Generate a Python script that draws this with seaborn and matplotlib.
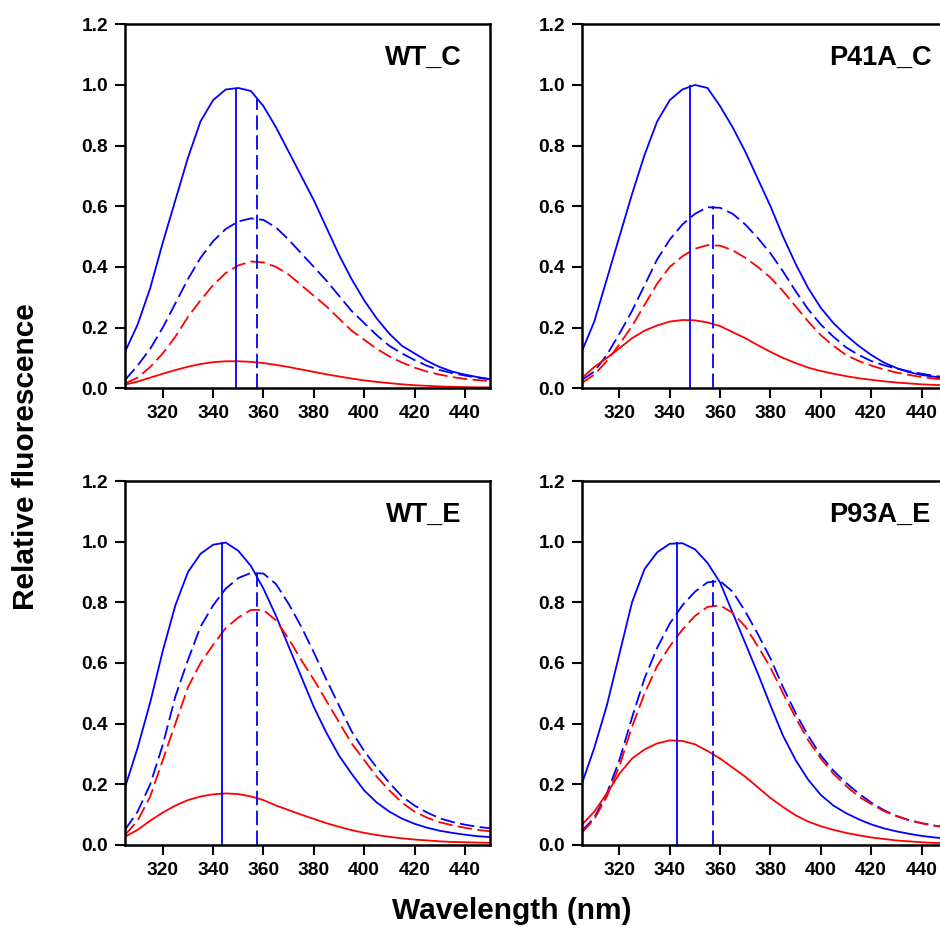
import numpy as np
import pandas as pd
import seaborn as sns
import matplotlib
matplotlib.use('Agg')
import matplotlib.pyplot as plt

# longitud de onda (nm), una lectura cada 5 nm
wavelength = list(range(305, 455, 5))

# WT_C
wtc_blue_solid = [0.12, 0.21, 0.33, 0.48, 0.62, 0.76, 0.88, 0.95, 0.985, 0.99, 0.98, 0.93, 0.86, 0.78, 0.70,
                  0.62, 0.53, 0.44, 0.36, 0.29, 0.23, 0.18, 0.14, 0.115, 0.09, 0.07, 0.055, 0.045, 0.037, 0.03]
wtc_blue_dash = [0.027, 0.075, 0.13, 0.20, 0.28, 0.36, 0.43, 0.485, 0.525, 0.55, 0.56, 0.555, 0.53, 0.49, 0.445,
                 0.40, 0.355, 0.305, 0.255, 0.215, 0.175, 0.14, 0.115, 0.093, 0.074, 0.06, 0.05, 0.042, 0.035, 0.03]
wtc_red_dash = [0.016, 0.035, 0.07, 0.115, 0.17, 0.235, 0.29, 0.34, 0.38, 0.405, 0.418, 0.415, 0.40, 0.375, 0.34,
                0.305, 0.27, 0.23, 0.19, 0.16, 0.13, 0.105, 0.085, 0.068, 0.055, 0.045, 0.037, 0.031, 0.027, 0.024]
wtc_red_solid = [0.012, 0.022, 0.035, 0.048, 0.06, 0.071, 0.08, 0.086, 0.089, 0.089, 0.087, 0.083, 0.077, 0.07, 0.062,
                 0.054, 0.046, 0.039, 0.032, 0.026, 0.021, 0.017, 0.013, 0.01, 0.008, 0.006, 0.005, 0.004, 0.003, 0.003]

# P41A_C
p41_blue_solid = [0.12, 0.22, 0.36, 0.50, 0.64, 0.77, 0.88, 0.95, 0.985, 1.0, 0.99, 0.93, 0.86, 0.78, 0.69,
                  0.60, 0.50, 0.41, 0.33, 0.265, 0.215, 0.175, 0.14, 0.11, 0.085, 0.067, 0.053, 0.044, 0.038, 0.034]
p41_blue_dash = [0.027, 0.055, 0.11, 0.18, 0.255, 0.34, 0.425, 0.49, 0.54, 0.575, 0.597, 0.595, 0.575, 0.54, 0.495,
                 0.445, 0.385, 0.32, 0.26, 0.21, 0.17, 0.135, 0.11, 0.09, 0.076, 0.065, 0.056, 0.048, 0.041, 0.036]
p41_red_dash = [0.017, 0.045, 0.09, 0.145, 0.205, 0.275, 0.345, 0.40, 0.435, 0.46, 0.472, 0.47, 0.455, 0.43, 0.40,
                0.365, 0.32, 0.27, 0.22, 0.175, 0.14, 0.11, 0.09, 0.075, 0.062, 0.052, 0.044, 0.037, 0.032, 0.028]
p41_red_solid = [0.033, 0.07, 0.10, 0.132, 0.165, 0.19, 0.207, 0.22, 0.225, 0.224, 0.217, 0.205, 0.185, 0.165, 0.142,
                 0.12, 0.10, 0.083, 0.068, 0.057, 0.048, 0.04, 0.033, 0.028, 0.023, 0.019, 0.016, 0.013, 0.011, 0.01]

# WT_E
wte_blue_solid = [0.19, 0.32, 0.47, 0.64, 0.79, 0.90, 0.96, 0.99, 0.997, 0.97, 0.92, 0.845, 0.755, 0.655, 0.555,
                  0.455, 0.37, 0.295, 0.235, 0.18, 0.14, 0.11, 0.087, 0.07, 0.057, 0.047, 0.04, 0.034, 0.029, 0.026]
wte_blue_dash = [0.05, 0.11, 0.20, 0.33, 0.49, 0.61, 0.72, 0.79, 0.845, 0.88, 0.897, 0.895, 0.86, 0.795, 0.72,
                 0.635, 0.545, 0.46, 0.375, 0.31, 0.255, 0.205, 0.16, 0.13, 0.107, 0.088, 0.076, 0.067, 0.06, 0.055]
wte_red_dash = [0.033, 0.08, 0.16, 0.28, 0.40, 0.52, 0.60, 0.66, 0.715, 0.75, 0.775, 0.775, 0.74, 0.68, 0.61,
                0.545, 0.475, 0.405, 0.335, 0.28, 0.225, 0.18, 0.14, 0.11, 0.09, 0.075, 0.065, 0.057, 0.05, 0.045]
wte_red_solid = [0.027, 0.05, 0.08, 0.107, 0.13, 0.148, 0.16, 0.167, 0.17, 0.168, 0.16, 0.148, 0.13, 0.115, 0.10,
                 0.086, 0.072, 0.06, 0.049, 0.04, 0.033, 0.027, 0.022, 0.018, 0.015, 0.012, 0.01, 0.009, 0.008, 0.007]

# P93A_E
p93_blue_solid = [0.20, 0.32, 0.46, 0.63, 0.80, 0.91, 0.965, 0.993, 0.995, 0.975, 0.93, 0.865, 0.765, 0.665, 0.565,
                  0.46, 0.36, 0.28, 0.215, 0.165, 0.13, 0.105, 0.085, 0.068, 0.055, 0.045, 0.037, 0.03, 0.025, 0.021]
p93_blue_dash = [0.045, 0.09, 0.17, 0.28, 0.42, 0.55, 0.65, 0.73, 0.79, 0.835, 0.866, 0.87, 0.835, 0.77, 0.695,
                 0.615, 0.52, 0.435, 0.36, 0.295, 0.245, 0.205, 0.17, 0.14, 0.115, 0.096, 0.082, 0.072, 0.064, 0.058]
p93_red_dash = [0.04, 0.085, 0.16, 0.26, 0.39, 0.50, 0.59, 0.655, 0.71, 0.755, 0.785, 0.79, 0.765, 0.72, 0.655,
                0.585, 0.50, 0.42, 0.345, 0.285, 0.235, 0.195, 0.16, 0.135, 0.112, 0.095, 0.082, 0.072, 0.064, 0.058]
p93_red_solid = [0.066, 0.11, 0.17, 0.235, 0.285, 0.315, 0.335, 0.345, 0.343, 0.332, 0.31, 0.285, 0.255, 0.225, 0.19,
                 0.155, 0.125, 0.098, 0.077, 0.062, 0.05, 0.04, 0.032, 0.025, 0.02, 0.015, 0.012, 0.009, 0.007, 0.006]

panel_names = ['WT_C', 'P41A_C', 'WT_E', 'P93A_E']
panel_curves = [
    [wtc_blue_solid, wtc_blue_dash, wtc_red_dash, wtc_red_solid],
    [p41_blue_solid, p41_blue_dash, p41_red_dash, p41_red_solid],
    [wte_blue_solid, wte_blue_dash, wte_red_dash, wte_red_solid],
    [p93_blue_solid, p93_blue_dash, p93_red_dash, p93_red_solid],
]
# lineas verticales en los maximos: (posicion, altura)
peak_solid_x = [349, 348, 343.5, 343]
peak_solid_h = [0.99, 1.0, 1.0, 1.0]
peak_dash_x = [357.3, 357, 357.4, 357]
peak_dash_h = [0.955, 0.60, 0.895, 0.874]

series_names = ['blue solid', 'blue dashed', 'red dashed', 'red solid']
palette = {'blue solid': '#0000FF', 'blue dashed': '#0000FF', 'red dashed': '#FF0000', 'red solid': '#FF0000'}
dashes = {'blue solid': '', 'blue dashed': (8, 3), 'red dashed': (8, 3), 'red solid': ''}

sns.set_style('ticks')
plt.rcParams['font.family'] = ['Liberation Sans', 'DejaVu Sans']
plt.rcParams['font.weight'] = 'bold'
for key in ['text.color', 'axes.labelcolor', 'xtick.color', 'ytick.color', 'axes.edgecolor']:
    plt.rcParams[key] = 'black'

fig = plt.figure(figsize=(9.4, 9.34), dpi=100)
fig.patch.set_facecolor('white')

lefts = [0.133, 0.6188, 0.133, 0.6188]
bottoms = [0.5843, 0.5843, 0.0953, 0.0953]
w, h = 0.3883, 0.3897

for i, name in enumerate(panel_names):
    ax = fig.add_axes([lefts[i], bottoms[i], w, h])
    rows = []
    for s, vals in zip(series_names, panel_curves[i]):
        for x, y in zip(wavelength, vals):
            rows.append({'wavelength': x, 'intensity': y, 'series': s})
    df = pd.DataFrame(rows)
    sns.lineplot(data=df, x='wavelength', y='intensity', hue='series', style='series',
                 palette=palette, dashes=dashes, legend=False, ax=ax, lw=1.3)
    ax.vlines(peak_solid_x[i], 0, peak_solid_h[i], color='#0000FF', lw=1.3)
    ax.vlines(peak_dash_x[i], 0, peak_dash_h[i], color='#0000FF', lw=1.3, linestyles=(0, (8, 3)))

    ax.set_xlim(305, 450)
    ax.set_ylim(0, 1.2)
    ax.set_xticks([320, 340, 360, 380, 400, 420, 440])
    ax.set_yticks([0.0, 0.2, 0.4, 0.6, 0.8, 1.0, 1.2])
    ax.set_yticklabels(['0.0', '0.2', '0.4', '0.6', '0.8', '1.0', '1.2'])
    ax.tick_params(direction='out', length=7, width=1.5, labelsize=13.8, pad=5, colors='black')
    for t in ax.get_xticklabels() + ax.get_yticklabels():
        t.set_fontweight('bold')
    for sp in ax.spines.values():
        sp.set_visible(True)
        sp.set_linewidth(1.8)
        sp.set_color('black')
    ax.set_xlabel('')
    ax.set_ylabel('')
    ax.set_facecolor('white')
    ax.text(423.5, 1.065, name, ha='center', va='baseline', fontsize=19.5, fontweight='bold', color='black')

fig.text(0.544, 0.016, 'Wavelength (nm)', ha='center', va='baseline', fontsize=21.5, fontweight='bold',
         color='black')
fig.text(0.028, 0.511, 'Relative fluorescence', rotation=90, ha='center', va='center',
         fontsize=21.5, fontweight='bold', color='black')

fig.savefig('out.png', dpi=100, facecolor='white')
